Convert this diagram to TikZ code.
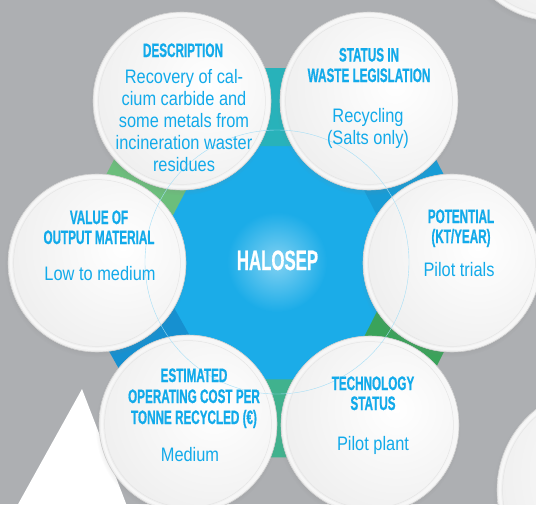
\documentclass[tikz,border=0pt]{standalone}
\usepackage{fontspec}
\setmainfont{Liberation Sans}
\newfontfamily\headfont[FakeStretch=0.6,FakeBold=0.6]{Liberation Sans}
\newfontfamily\bodyfont[FakeStretch=0.84]{Liberation Sans}
\usetikzlibrary{calc,shadows}
\definecolor{bg}{RGB}{173,175,178}
\definecolor{hexblue}{RGB}{27,172,232}
\definecolor{txtblue}{RGB}{18,170,234}
\definecolor{cTop}{RGB}{40,178,186}
\definecolor{cUR}{RGB}{24,156,214}
\definecolor{cLR}{RGB}{58,163,90}
\definecolor{cBot}{RGB}{64,178,142}
\definecolor{cLL}{RGB}{22,144,208}
\definecolor{cUL}{RGB}{108,190,124}
\newcommand{\myconn}[3]{%
  \coordinate (ca) at ($(#1)!7pt!(cC)$);
  \coordinate (cb) at ($(#2)!7pt!(cC)$);
  \fill[#3] ($(ca)!0.39!(cb)!39pt!90:(cb)$) -- ($(ca)!0.61!(cb)!39pt!90:(cb)$)
    -- ($(ca)!0.61!(cb)!39pt!-90:(cb)$) -- ($(ca)!0.39!(cb)!39pt!-90:(cb)$) -- cycle;}
\begin{document}
\begin{tikzpicture}[x=1pt,y=-1pt,
  bubble/.style={circle, inner sep=0pt, minimum size=#1, fill=white!97!black,
    draw=black!20, line width=0.6pt,
    circular drop shadow={shadow xshift=-1pt, shadow yshift=-2.5pt, shadow scale=1.03, opacity=0.35},
    path picture={
      \shade[inner color=white, outer color=black!12]
        ([shift={(26pt,16pt)}]path picture bounding box.center) circle (1.25*#1);
      \draw[white!97!black, line width=2.4pt] (path picture bounding box.center) circle (0.5*#1-3pt);
      \draw[black!10, line width=0.5pt] (path picture bounding box.center) circle (0.5*#1-5.6pt);
    }},
  head/.style={font={\headfont\bfseries\fontsize{19.5}{20}\selectfont}, text=txtblue, inner sep=0pt, anchor=base},
  body/.style={font={\bodyfont\fontsize{19.5}{22}\selectfont}, text=txtblue, inner sep=0pt, anchor=base},
  title/.style={font={\headfont\bfseries\fontsize{28}{30}\selectfont}, text=white, inner sep=0pt, anchor=base}
]
\useasboundingbox (0,0) rectangle (536,504);
\fill[bg] (0,0) rectangle (536,504);
% background triangle
\fill[white] (82,389) -- (17,506) -- (127,506) -- cycle;
% centres
\coordinate (cD) at (182,101);
\coordinate (cS) at (369,101);
\coordinate (cP) at (452,263);
\coordinate (cT) at (370,425);
\coordinate (cE) at (188,424);
\coordinate (cV) at (97,263);
\coordinate (cC) at (277,262);
% central hexagon
\fill[hexblue] (cD) -- (cS) -- (cP) -- (cT) -- (cE) -- (cV) -- cycle;
\shade[inner color=hexblue!55!white, outer color=hexblue] (cC) circle (50pt);
% connectors
\myconn{cD}{cS}{cTop}
\myconn{cS}{cP}{cUR}
\myconn{cP}{cT}{cLR}
\myconn{cT}{cE}{cBot}
\myconn{cE}{cV}{cLL}
\myconn{cV}{cD}{cUL}
% decorative partial circles
\node[bubble=192pt] (tr) at (555,-75) {};
\node[bubble=206pt] (br) at (600,490) {};
% bubbles
\node[bubble=178pt] (V) at (cV) {};
\node[bubble=178pt] (D) at (cD) {};
\node[bubble=178pt] (S) at (cS) {};
\node[bubble=178pt] (P) at (cP) {};
\node[bubble=178pt] (E) at (cE) {};
\node[bubble=178pt] (T) at (cT) {};
% thin ring
\draw[hexblue!40!white, line width=0.4pt] (cC) circle (132pt);
% centre title
\node[title] (halosep) at (277.5,270) {HALOSEP};
% Description
\node[head] (d0) at (183,57) {DESCRIPTION};
\node[body] (d1) at (184,83) {Recovery of cal-};
\node[body] (d2) at (184,105) {cium carbide and};
\node[body] (d3) at (184,127) {some metals from};
\node[body] (d4) at (184,149) {incineration waster};
\node[body] (d5) at (184,171) {residues};
% Status
\node[head] (s0) at (369,61.5) {STATUS IN};
\node[head] (s1) at (369,82) {WASTE LEGISLATION};
\node[body] (s2) at (368,122) {Recycling};
\node[body] (s3) at (368,144) {(Salts only)};
% Value
\node[head] (v0) at (99,224) {VALUE OF};
\node[head] (v1) at (99,244) {OUTPUT MATERIAL};
\node[body] (v2) at (100,280) {Low to medium};
% Potential
\node[head] (p0) at (461,223) {POTENTIAL};
\node[head] (p1) at (461,243) {(KT/YEAR)};
\node[body] (p2) at (459,276) {Pilot trials};
% Estimated
\node[head] (e0) at (194,382) {ESTIMATED};
\node[head] (e1) at (194,403) {OPERATING COST PER};
\node[head] (e2) at (194,424) {TONNE RECYCLED (€)};
\node[body] (e3) at (190,461) {Medium};
% Technology
\node[head] (t0) at (373,390) {TECHNOLOGY};
\node[head] (t1) at (373,410) {STATUS};
\node[body] (t2) at (373,450) {Pilot plant};
\end{tikzpicture}
\end{document}
